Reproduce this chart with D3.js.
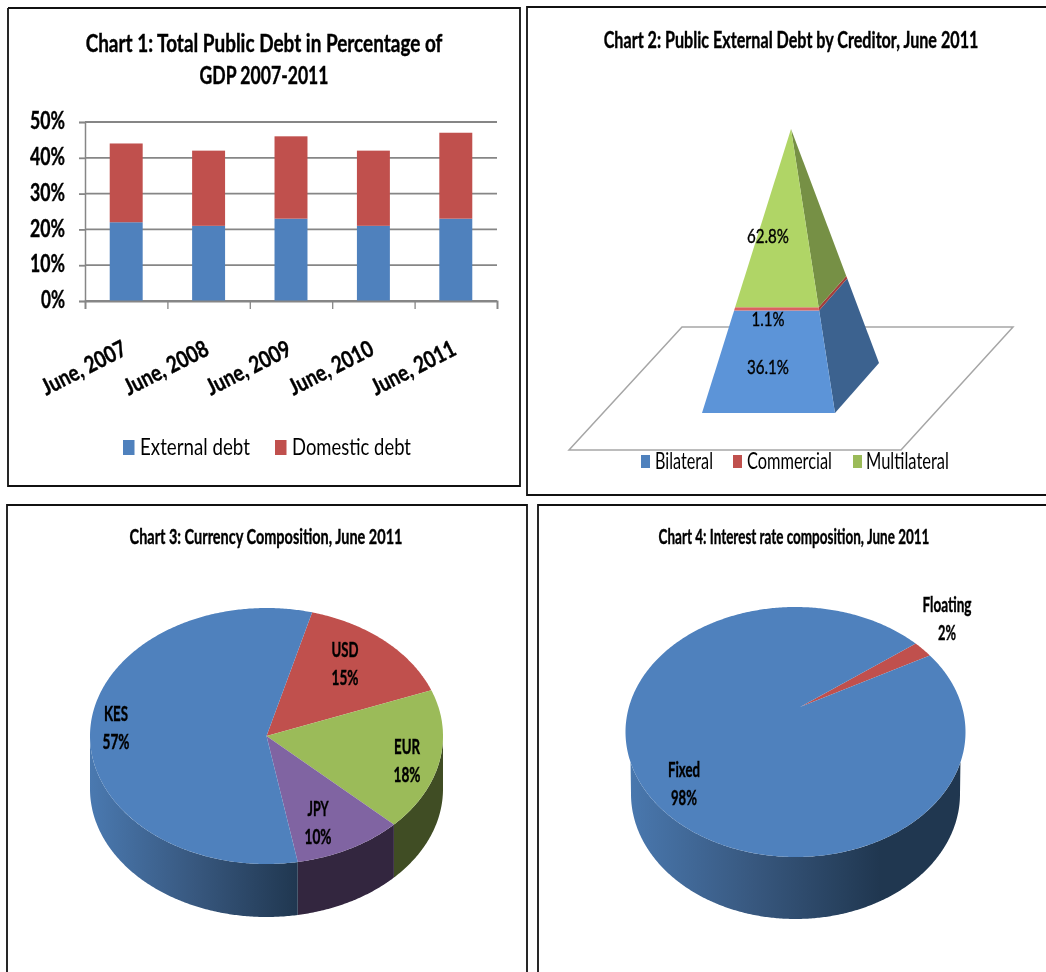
<!DOCTYPE html>
<html><head><meta charset="utf-8">
<script src="https://cdn.jsdelivr.net/npm/d3@7"></script>
<style>
html,body{margin:0;padding:0;background:#fff;overflow:hidden}
svg{display:block;filter:blur(0.45px)}
text{font-family:Lato,"Open Sans",sans-serif;fill:#000}
text[font-weight="bold"]{stroke:#000;stroke-width:0.4px}
</style></head><body>
<script>
// ---- Chart 1
const years = ["June, 2007","June, 2008","June, 2009","June, 2010","June, 2011"];
const externalDebt = [22,21,23,21,23];
const domesticDebt = [22,21,23,21,24];
const yTicks = [0,10,20,30,40,50];
// ---- Chart 2
const creditors = ["Bilateral","Commercial","Multilateral"];
const creditorValues = [36.1,1.1,62.8];
// ---- Chart 3
const currencies = ["USD","EUR","JPY","KES"];
const currencyValues = [15,18,10,57];
// ---- Chart 4
const rateTypes = ["Floating","Fixed"];
const rateValues = [2,98];

const BLUE="#4F81BD",RED="#C0504D",GREEN="#9BBB59",PURPLE="#8064A2";
const svg=d3.select("body").append("svg").attr("width",1046).attr("height",972);
const defs=svg.append("defs");

// horizontally squeeze a text to the given width (the reference type is condensed)
function label(x,y,str,o={}){
  const t=svg.append("text").text(str)
    .attr("font-size",o.size||20).attr("font-weight",o.weight||"bold")
    .attr("text-anchor",o.anchor||"middle");
  const k=o.width?o.width/t.node().getComputedTextLength():1;
  t.attr("transform",`translate(${x},${y}) scale(${k},1)`);
  if(o.stroke) t.style("stroke","#000").style("stroke-width",o.stroke);
  return t;
}
function frame(pts){
  svg.append("path").attr("d",d3.line()(pts)).attr("fill","none").attr("stroke","#111").attr("stroke-width",1.8);
}
frame([[8,8],[520,8],[520,486],[8,486],[8,8]]);
frame([[1046,7],[527,7],[527,495],[1046,495]]);
frame([[7,972],[7,505],[527,505],[527,972]]);
frame([[538,972],[538,505],[1046,505]]);

// ================= Chart 1
label(264,52,"Chart 1: Total Public Debt in Percentage of",{size:24,width:357});
label(264,84,"GDP 2007-2011",{size:24,width:129});
const y1=d3.scaleLinear().domain([0,50]).range([301,122]);
const x1=d3.scaleBand().domain(years).range([85,497]).paddingInner(0.6).paddingOuter(0.3);
const xBound=d3.scaleLinear().domain([0,years.length]).range([85,497]);
const yAxis=svg.append("g").attr("transform","translate(85,0)")
  .call(d3.axisLeft(y1).tickValues(yTicks).tickFormat(d=>d+"%").tickSize(6).tickPadding(13));
yAxis.selectAll(".tick line").attr("stroke","#868686").attr("stroke-width",1.8);
yAxis.select(".domain").attr("stroke","#868686").attr("stroke-width",1.5);
yAxis.selectAll("text").attr("font-size",24).attr("font-weight","bold")
  .style("font-family","Lato").attr("dy","0.28em").attr("x",0)
  .each(function(d){
    const k=(d===0?24:35)/this.getComputedTextLength();
    d3.select(this).attr("transform",`translate(-20,0) scale(${k},1)`);
  });
svg.append("g").selectAll("line").data(yTicks).join("line")
  .attr("x1",85).attr("x2",497).attr("y1",d=>y1(d)).attr("y2",d=>y1(d))
  .attr("stroke","#868686").attr("stroke-width",1.8);
const stack=d3.stack().keys([0,1]).value((d,k)=>d[k])(years.map((_,i)=>[externalDebt[i],domesticDebt[i]]));
svg.append("g").selectAll("g").data(stack).join("g").attr("fill",(d,i)=>[BLUE,RED][i])
  .selectAll("rect").data(d=>d).join("rect")
  .attr("x",(d,i)=>x1(years[i])).attr("width",x1.bandwidth())
  .attr("y",d=>y1(d[1])).attr("height",d=>y1(d[0])-y1(d[1]));
const xTicks=svg.append("g").attr("transform","translate(0,301)")
  .call(d3.axisBottom(xBound).tickValues(d3.range(years.length+1)).tickFormat("").tickSize(8).tickSizeOuter(8));
xTicks.selectAll("line").attr("stroke","#868686").attr("stroke-width",1.3);
xTicks.select(".domain").attr("stroke","#868686").attr("stroke-width",1.8);
const xLab=svg.append("g").attr("transform","translate(0,301)").call(d3.axisBottom(x1).tickSize(0));
xLab.select(".domain").remove();
xLab.selectAll("text").attr("font-size",23).attr("font-weight","bold").style("font-family","Lato")
  .attr("text-anchor","end").attr("dy",0).attr("y",0).attr("x",0)
  .each(function(){
    const k=92/this.getComputedTextLength();
    d3.select(this).attr("transform",`translate(2,53) rotate(-27) scale(${k},1)`);
  });
[[123,"External debt",140,110,BLUE],[275,"Domestic debt",292,119,RED]].forEach(([sx,s,tx,w,c])=>{
  svg.append("rect").attr("x",sx).attr("y",440).attr("width",11.5).attr("height",15).attr("fill",c);
  label(tx,455,s,{size:24,weight:"normal",anchor:"start",width:w});
});

// ================= Chart 2
label(791,48,"Chart 2: Public External Debt by Creditor, June 2011",{size:23,width:375});
svg.append("path").attr("d",d3.line()([[682,327],[1013,327],[901,450],[569,450]])+"Z")
  .attr("fill","#fff").attr("stroke","#a6a6a6").attr("stroke-width",1.5);
const apex=[791,129],fl=[702,413],fr=[835,413],br=[879,363];
const h=d3.scaleLinear().domain([0,100]).range([0,1]);
const lerp=(p,t)=>[p[0]+(apex[0]-p[0])*t,p[1]+(apex[1]-p[1])*t];
const cum=d3.cumsum(creditorValues);
const pyrColors=[["#5C94D8","#3C628F"],["#DB6360","#A33F3C"],["#B0D566","#769045"]];
creditorValues.forEach((v,i)=>{
  const t0=h(cum[i]-v),t1=h(cum[i]);
  svg.append("path").attr("d",d3.line()([lerp(fr,t0),lerp(br,t0),lerp(br,t1),lerp(fr,t1)])+"Z").attr("fill",pyrColors[i][1]);
  svg.append("path").attr("d",d3.line()([lerp(fl,t0),lerp(fr,t0),lerp(fr,t1),lerp(fl,t1)])+"Z").attr("fill",pyrColors[i][0]);
});
[[236,2],[319,1],[367,0]].forEach(([ly,i])=>label(768,ly+7,creditorValues[i].toFixed(1)+"%",{size:20,weight:"normal",width:i==1?33:42,stroke:0.4}));
[[641,655,58,BLUE],[733,747,85,RED],[853,866,83,GREEN]].forEach(([sx,tx,w,c],i)=>{
  svg.append("rect").attr("x",sx).attr("y",455).attr("width",9).attr("height",13).attr("fill",c);
  label(tx,469,creditors[i],{size:23,weight:"normal",anchor:"start",width:w});
});

// ================= Pies
function pie3d(o){
  const arcs=d3.pie().sort(null).startAngle(o.start).endAngle(o.start+2*Math.PI)(o.values);
  const rim=(a,dy=0,rx=o.rx)=>[o.cx+rx*Math.sin(a),o.cy+dy-o.ry*Math.cos(a)];
  const rimPts=(a0,a1,dy,rx)=>{
    const n=Math.max(2,Math.ceil((a1-a0)/0.01));
    return d3.range(n+1).map(i=>rim(a0+(a1-a0)*i/n,dy,rx));
  };
  const line=d3.line();
  const id="grad"+o.id;
  const g=defs.append("linearGradient").attr("id",id).attr("gradientUnits","userSpaceOnUse")
    .attr("x1",o.cx-o.rx).attr("x2",o.gradEnd).attr("y1",0).attr("y2",0);
  g.append("stop").attr("offset",0).attr("stop-color","#4A79B0");
  g.append("stop").attr("offset",0.5).attr("stop-color","#38587F");
  g.append("stop").attr("offset",1).attr("stop-color","#203750");
  const vis0=o.wallFrom,vis1=2*Math.PI-o.wallFrom;
  arcs.forEach((d,i)=>{
    const a0=Math.max(d.startAngle,vis0),a1=Math.min(d.endAngle,vis1);
    if(a1<=a0) return;
    // the lower edge reaches the ellipse's own extremes
    const b0=a0===vis0?Math.PI/2:a0,b1=a1===vis1?1.5*Math.PI:a1;
    const pts=rimPts(a0,a1,0,o.rx).concat(rimPts(b0,b1,o.depth,o.bottomRx).reverse());
    svg.append("path").attr("d",line(pts)+"Z").attr("fill",o.walls[i]==="grad"?`url(#${id})`:o.walls[i]);
  });
  arcs.forEach((d,i)=>{
    const pts=[[o.apexX,o.apexY]].concat(rimPts(d.startAngle,d.endAngle,0,o.rx));
    svg.append("path").attr("d",line(pts)+"Z").attr("fill",o.colors[i]);
  });
}
label(266,544,"Chart 3: Currency Composition, June 2011",{size:20,width:273});
pie3d({id:3,values:currencyValues,start:15*Math.PI/180,cx:266.5,cy:736,rx:176.5,ry:128,depth:53,bottomRx:176.5,
  apexX:266.5,apexY:736,wallFrom:Math.PI/2,gradEnd:298,
  colors:[RED,GREEN,PURPLE,BLUE],walls:["#000","#404D24","#33263F","grad"]});
const c3labels=[[345,650],[407,747],[318,809],[116,714]];
currencies.forEach((c,i)=>{
  const [lx,ly]=c3labels[i];
  label(lx,ly+7,c,{size:20,width:{USD:27,EUR:26,JPY:21,KES:24}[c]});
  label(lx,ly+35,currencyValues[i]+"%",{size:20,width:27});
});

label(794,544,"Chart 4: Interest rate composition, June 2011",{size:20,width:271});
pie3d({id:4,values:rateValues,start:45*Math.PI/180,cx:795.5,cy:732,rx:170,ry:125,depth:62,bottomRx:164.5,
  apexX:800,apexY:707,wallFrom:104*Math.PI/180,gradEnd:880,
  colors:[RED,BLUE],walls:["#000","grad"]});
[[947,605],[684,770]].forEach(([lx,ly],i)=>{
  label(lx,ly+7,rateTypes[i],{size:20,width:i==0?49:32});
  label(lx,ly+35,rateValues[i]+"%",{size:20,width:i==0?18:26});
});
</script>
</body></html>
